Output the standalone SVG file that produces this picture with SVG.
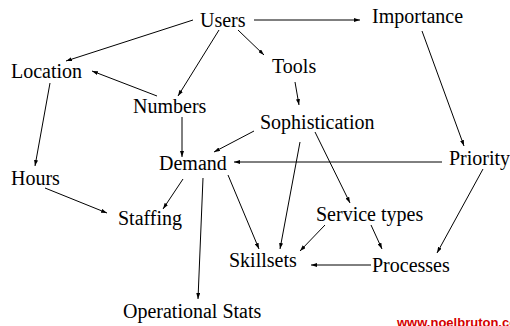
<svg xmlns="http://www.w3.org/2000/svg" width="510" height="326" viewBox="0 0 510 326">
<defs>
<marker id="ah" viewBox="0 0 6 4" refX="6" refY="2" markerWidth="6" markerHeight="4" markerUnits="userSpaceOnUse" orient="auto"><path d="M0,0 L6,2 L0,4 z" fill="#000"/></marker>
<style>
.n{font-family:"Liberation Serif","Times New Roman",serif;font-size:20px;fill:#000}
.c line{stroke:#000;stroke-width:1;fill:none;marker-end:url(#ah)}
.w{font-family:"Liberation Sans",Arial,sans-serif;font-size:13px;font-weight:bold;fill:#d40000}
</style>
</defs>
<rect width="510" height="326" fill="#fff"/>
<g class="c" id="connectors">
<line x1="193" y1="20" x2="66" y2="61"/>
<line x1="254" y1="20" x2="360" y2="20"/>
<line x1="219" y1="30" x2="178" y2="96"/>
<line x1="238" y1="30" x2="264" y2="55"/>
<line x1="157" y1="96" x2="92" y2="71"/>
<line x1="50" y1="83" x2="35" y2="166"/>
<line x1="182" y1="117" x2="182" y2="157"/>
<line x1="295" y1="82" x2="299" y2="105"/>
<line x1="254" y1="131" x2="214" y2="152"/>
<line x1="422" y1="31" x2="464" y2="146"/>
<line x1="442" y1="162" x2="234" y2="162"/>
<line x1="483" y1="169" x2="437" y2="253"/>
<line x1="300" y1="142" x2="280" y2="249"/>
<line x1="315" y1="132" x2="350" y2="203"/>
<line x1="183" y1="179" x2="163" y2="209"/>
<line x1="203" y1="178" x2="198" y2="299"/>
<line x1="228" y1="175" x2="259" y2="249"/>
<line x1="45" y1="188" x2="107" y2="213"/>
<line x1="325" y1="225" x2="300" y2="251"/>
<line x1="371" y1="225" x2="382" y2="249"/>
<line x1="371" y1="265" x2="311" y2="265"/>
</g>
<g id="users"><text class="n" x="200" y="27">Users</text></g>
<g id="importance"><text class="n" x="372" y="23">Importance</text></g>
<g id="location"><text class="n" x="11" y="78">Location</text></g>
<g id="tools"><text class="n" x="272" y="73">Tools</text></g>
<g id="numbers"><text class="n" x="133" y="113">Numbers</text></g>
<g id="sophistication"><text class="n" x="260" y="129">Sophistication</text></g>
<g id="demand"><text class="n" x="159" y="170">Demand</text></g>
<g id="priority"><text class="n" x="449" y="165">Priority</text></g>
<g id="hours"><text class="n" x="11" y="185">Hours</text></g>
<g id="staffing"><text class="n" x="118" y="225">Staffing</text></g>
<g id="service-types"><text class="n" x="316" y="221">Service types</text></g>
<g id="skillsets"><text class="n" x="229" y="267">Skillsets</text></g>
<g id="processes"><text class="n" x="372" y="272">Processes</text></g>
<g id="operational-stats"><text class="n" x="123" y="318">Operational Stats</text></g>
<text class="w" x="397" y="327">www.noelbruton.com</text>
</svg>
